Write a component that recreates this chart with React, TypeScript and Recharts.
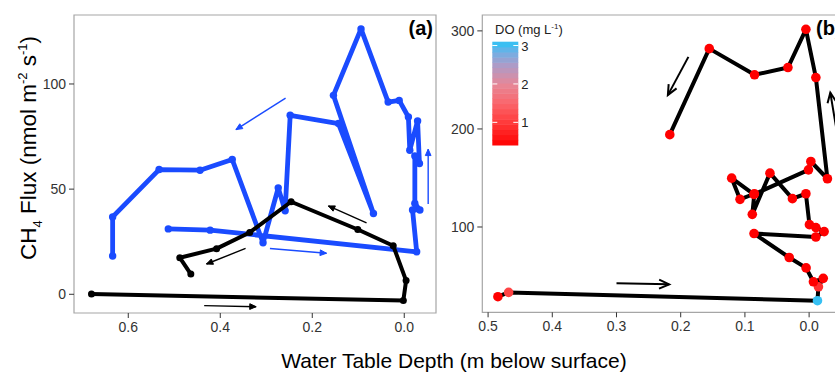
import React from 'react';
import { ScatterChart, Scatter, XAxis, YAxis, ReferenceLine, ReferenceArea } from 'recharts';

// ---------- Panel (a) data ----------
const blueDepth = [0.513, 0.422, -0.027, -0.018, -0.034, -0.023, -0.023, -0.033, -0.029, -0.012, -0.009, 0.011, 0.035, 0.094, 0.154, 0.067, 0.143, 0.248, 0.259, 0.274, 0.307, 0.374, 0.444, 0.533, 0.634, 0.634];
const blueFlux = [31.1, 30.5, 20.2, 40.1, 40.1, 43.2, 65.8, 62.2, 82.4, 68.5, 84.3, 92.2, 91.4, 126.2, 94.6, 38.4, 81.2, 85.1, 39.7, 50.6, 24.5, 64.1, 59.0, 59.3, 36.8, 18.2];
const blackDepth = [0.68, 0.002, -0.004, 0.024, 0.101, 0.246, 0.336, 0.408, 0.488, 0.464];
const blackFlux = [0.1, -3.0, 6.5, 23.1, 30.8, 44.0, 29.4, 21.7, 17.4, 9.6];
// arrows: [x1, y1, x2, y2]
const blueArrows = [
  [0.258, 93.3, 0.366, 78.3],
  [-0.052, 42.9, -0.052, 69.0],
  [0.292, 21.8, 0.169, 19.5],
];
const blackArrowsA = [
  [0.082, 34.0, 0.165, 42.0],
  [0.345, 21.8, 0.43, 14.4],
  [0.435, -5.4, 0.322, -5.9],
];
const xTicksA = [0, 0.2, 0.4, 0.6];
const yTicksA = [0, 50, 100];
const xDomainA = [-0.069, 0.718];
const yDomainA = [-8.9, 132.8];

// ---------- Panel (b) data ----------
const bDepth = [0.4847, 0.468, -0.013, -0.0145, -0.022, -0.0067, 0.0047, 0.031, 0.0858, -0.0105, -0.0234, -0.0105, -0.0005, 0.005, 0.026, 0.061, 0.0885, 0.0853, 0.1076, 0.1206, 0.086, 0.001, -0.0027, -0.0285, -0.0105, 0.005, 0.033, 0.085, 0.1555, 0.217];
const bFlux = [28.9, 33.3, 24.8, 39.0, 47.6, 44.1, 58.3, 68.9, 93.3, 89.8, 95.3, 99.4, 102.4, 133.9, 128.9, 154.9, 112.9, 133.9, 128.2, 149.8, 133.2, 158.3, 166.8, 149.2, 252.4, 301.6, 262.6, 255.2, 281.9, 194.2];
const bDO = [0.4, 1.1, 3.05, 0.9, 0.4, 0.4, 0.4, 0.4, 0.4, 0.4, 0.4, 0.4, 0.4, 0.4, 0.4, 0.4, 0.4, 0.4, 0.4, 0.4, 0.4, 0.4, 0.4, 0.4, 0.4, 0.4, 0.4, 0.4, 0.4, 0.4];
const blackArrowsB = [
  [0.3, 42.5, 0.218, 41.5],
  [0.188, 273.5, 0.22, 234.5],
  [-0.045, 190, -0.033, 237],
];
const xTicksB = [0, 0.1, 0.2, 0.3, 0.4, 0.5];
const yTicksB = [100, 200, 300];
const xDomainB = [-0.059, 0.509];
const yDomainB = [13, 316.2];
const doTicks = [1, 2, 3];
const doRange = [0.41, 3.1];

const BLUE = '#1a4bff';
const FONT = '"Liberation Sans", Arial, Helvetica, sans-serif';

const colorStops: [number, number[]][] = [
  [0.4, [255, 0, 0]],
  [1.0, [255, 58, 58]],
  [1.5, [250, 102, 108]],
  [2.0, [230, 136, 152]],
  [2.5, [172, 155, 200]],
  [2.85, [110, 176, 230]],
  [3.1, [40, 196, 246]],
];
function doColor(v: number) {
  if (v <= colorStops[0][0]) return `rgb(${colorStops[0][1].join(',')})`;
  for (let i = 1; i < colorStops.length; i++) {
    const [v1, c1] = colorStops[i];
    const [v0, c0] = colorStops[i - 1];
    if (v <= v1) {
      const t = (v - v0) / (v1 - v0);
      const c = c0.map((a, k) => Math.round(a + (c1[k] - a) * t));
      return `rgb(${c.join(',')})`;
    }
  }
  return `rgb(${colorStops[colorStops.length - 1][1].join(',')})`;
}

const blueData = blueDepth.map((x, i) => ({ x, y: blueFlux[i] }));
const blackData = blackDepth.map((x, i) => ({ x, y: blackFlux[i] }));
const bData = bDepth.map((x, i) => ({ x, y: bFlux[i], d: bDO[i] }));

function makeArrow(color: string, width: number, head: number, filled: boolean) {
  return (p: any) => {
    const { x1, y1, x2, y2 } = p;
    if ([x1, y1, x2, y2].some((v) => v == null || isNaN(v))) return <g />;
    const ang = Math.atan2(y2 - y1, x2 - x1);
    const a1 = ang + Math.PI - 0.42;
    const a2 = ang + Math.PI + 0.42;
    const hx1 = x2 + head * Math.cos(a1);
    const hy1 = y2 + head * Math.sin(a1);
    const hx2 = x2 + head * Math.cos(a2);
    const hy2 = y2 + head * Math.sin(a2);
    return (
      <g>
        <line x1={x1} y1={y1} x2={x2} y2={y2} stroke={color} strokeWidth={width} />
        {filled ? (
          <polygon points={`${x2},${y2} ${hx1},${hy1} ${hx2},${hy2}`} fill={color} stroke={color} strokeWidth={1} />
        ) : (
          <polyline points={`${hx1},${hy1} ${x2},${y2} ${hx2},${hy2}`} fill="none" stroke={color} strokeWidth={width} />
        )}
      </g>
    );
  };
}

const tickStyle = { fontSize: 14, fill: '#333', fontFamily: FONT };

const smallDot = (color: string, r: number) => (p: any) => (
  <circle cx={p.cx} cy={p.cy} r={r} fill={color} />
);

const doDot = (p: any) => <circle cx={p.cx} cy={p.cy} r={4.8} fill={doColor(p.payload.d)} />;

function PanelA() {
  return (
    <ScatterChart width={440} height={373} margin={{ top: 15, right: 4, bottom: 0, left: 0 }}>
      <XAxis
        type="number"
        dataKey="x"
        domain={xDomainA}
        allowDataOverflow
        reversed
        ticks={xTicksA}
        tickFormatter={(v: number) => v.toFixed(1)}
        axisLine={false}
        tickSize={5}
        tickMargin={4}
        tickLine={{ stroke: '#333' }}
        tick={tickStyle}
        height={60}
      />
      <YAxis
        type="number"
        dataKey="y"
        domain={yDomainA}
        allowDataOverflow
        ticks={yTicksA}
        axisLine={false}
        tickSize={5}
        tickMargin={3}
        tickLine={{ stroke: '#333' }}
        tick={tickStyle}
        width={74}
      />
      <ReferenceArea x1={xDomainA[0]} x2={xDomainA[1]} y1={yDomainA[0]} y2={yDomainA[1]} fill="none" stroke="#a6a6a6" strokeWidth={1.2} ifOverflow="visible" />
      <Scatter data={blueData} fill={BLUE} line={{ stroke: BLUE, strokeWidth: 4.8, strokeLinejoin: 'round' }} shape={smallDot(BLUE, 3.7)} isAnimationActive={false} />
      <Scatter data={blackData} fill="#000" line={{ stroke: '#000', strokeWidth: 4, strokeLinejoin: 'round' }} shape={smallDot('#000', 3.5)} isAnimationActive={false} />
      {blueArrows.map((a, i) => (
        <ReferenceLine key={'ba' + i} segment={[{ x: a[0], y: a[1] }, { x: a[2], y: a[3] }]} ifOverflow="visible" shape={makeArrow(BLUE, 1.4, 7, true)} />
      ))}
      {blackArrowsA.map((a, i) => (
        <ReferenceLine key={'ka' + i} segment={[{ x: a[0], y: a[1] }, { x: a[2], y: a[3] }]} ifOverflow="visible" shape={makeArrow('#000', 1.4, 7, true)} />
      ))}
    </ScatterChart>
  );
}

function PanelB() {
  return (
    <ScatterChart width={415} height={373} margin={{ top: 15, right: 8, bottom: 0, left: 0 }}>
      <XAxis
        type="number"
        dataKey="x"
        domain={xDomainB}
        allowDataOverflow
        reversed
        ticks={xTicksB}
        tickFormatter={(v: number) => v.toFixed(1)}
        axisLine={false}
        tickSize={5}
        tickMargin={4}
        tickLine={{ stroke: '#333' }}
        tick={tickStyle}
        height={60.7}
      />
      <YAxis
        type="number"
        dataKey="y"
        domain={yDomainB}
        allowDataOverflow
        ticks={yTicksB}
        axisLine={false}
        tickSize={5}
        tickMargin={3}
        tickLine={{ stroke: '#333' }}
        tick={tickStyle}
        width={42.3}
      />
      <ReferenceArea x1={xDomainB[0]} x2={xDomainB[1]} y1={yDomainB[0]} y2={yDomainB[1]} fill="none" stroke="#a6a6a6" strokeWidth={1.2} ifOverflow="visible" />
      <Scatter data={bData} fill="#000" line={{ stroke: '#000', strokeWidth: 4, strokeLinejoin: 'round' }} shape={doDot} isAnimationActive={false} />
      {blackArrowsB.map((a, i) => (
        <ReferenceLine key={'kb' + i} segment={[{ x: a[0], y: a[1] }, { x: a[2], y: a[3] }]} ifOverflow="visible" shape={makeArrow('#000', 2, 11, false)} />
      ))}
    </ScatterChart>
  );
}

function ColorBar() {
  const top = 41.7;
  const bottom = 145;
  const left = 492.3;
  const w = 26;
  const n = 20;
  const span = doRange[1] - doRange[0];
  const yOf = (v: number) => bottom - ((v - doRange[0]) / span) * (bottom - top);
  const bands = Array.from({ length: n }, (_, i) => {
    const v0 = doRange[0] + (span * i) / n;
    const v1 = doRange[0] + (span * (i + 1)) / n;
    return { y: yOf(v1), h: yOf(v0) - yOf(v1) + 0.5, c: doColor((v0 + v1) / 2) };
  });
  return (
    <g>
      <text x={495} y={34} fontSize={13} fontFamily={FONT} fill="#222">
        DO (mg L<tspan dy={-5} fontSize={8}>-1</tspan>
        <tspan dy={5}>)</tspan>
      </text>
      {bands.map((b, i) => (
        <rect key={i} x={left} y={b.y} width={w} height={b.h} fill={b.c} />
      ))}
      {doTicks.map((t) => (
        <g key={t}>
          <line x1={left} x2={left + 5} y1={yOf(t)} y2={yOf(t)} stroke="#fff" strokeWidth={1} />
          <line x1={left + w - 5} x2={left + w} y1={yOf(t)} y2={yOf(t)} stroke="#fff" strokeWidth={1} />
          <text x={left + w + 3} y={yOf(t) + 5} fontSize={13} fontFamily={FONT} fill="#222">
            {t}
          </text>
        </g>
      ))}
    </g>
  );
}

export default function App() {
  return (
    <div style={{ position: 'absolute', left: 0, top: 0, width: 835, height: 373, overflow: 'hidden', background: '#fff' }}>
      <div style={{ position: 'absolute', left: 0, top: 0 }}>
        <PanelA />
      </div>
      <div style={{ position: 'absolute', left: 440, top: 0 }}>
        <PanelB />
      </div>
      <svg width={835} height={373} style={{ position: 'absolute', left: 0, top: 0, pointerEvents: 'none' }}>
        <text x={433} y={35} textAnchor="end" fontSize={20} fontWeight="bold" fontFamily={FONT} fill="#000">(a)</text>
        <text x={816} y={35} fontSize={20} fontWeight="bold" fontFamily={FONT} fill="#000">(b)</text>
        <text transform="rotate(-90)" x={-148} y={36} textAnchor="middle" fontSize={22.5} fontFamily={FONT} fill="#000">
          CH<tspan dy={6} fontSize={13}>4</tspan>
          <tspan dy={-6}> Flux (nmol m</tspan>
          <tspan dy={-9} fontSize={13}>-2</tspan>
          <tspan dy={9}> s</tspan>
          <tspan dy={-9} fontSize={13}>-1</tspan>
          <tspan dy={9}>)</tspan>
        </text>
        <text x={454} y={368} textAnchor="middle" fontSize={21} fontFamily={FONT} fill="#000">
          Water Table Depth (m below surface)
        </text>
        <ColorBar />
      </svg>
    </div>
  );
}
